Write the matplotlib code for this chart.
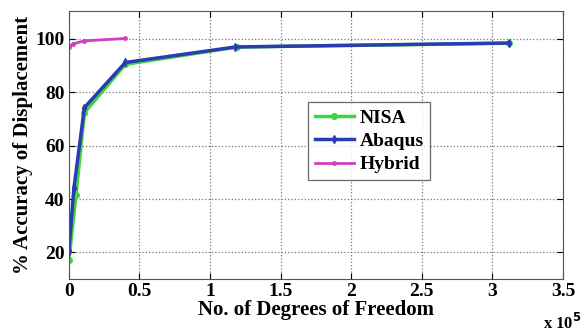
import matplotlib
matplotlib.use('Agg')
import matplotlib.pyplot as plt

# degrees of freedom (x 10^5) and accuracy (%)
nisa_x = [0.0, 0.05, 0.11, 0.4, 1.19, 3.12]
nisa_y = [17.0, 41.5, 72.4, 90.5, 97.0, 98.4]

abaqus_x = [0.0, 0.035, 0.11, 0.4, 1.18, 3.12]
abaqus_y = [20.7, 44.0, 74.3, 91.2, 97.0, 98.5]

hybrid_x = [0.002, 0.03, 0.11, 0.4]
hybrid_y = [97.0, 98.2, 99.3, 100.2]

xticks = [0, 0.5, 1, 1.5, 2, 2.5, 3, 3.5]
xtick_labels = ['0', '0.5', '1', '1.5', '2', '2.5', '3', '3.5']
yticks = [20, 40, 60, 80, 100]

plt.rcParams['font.family'] = ['Liberation Serif', 'DejaVu Serif']
plt.rcParams['font.weight'] = 'bold'

fig = plt.figure(figsize=(5.84, 3.33), dpi=100)
ax = fig.add_axes([0.118, 0.162, 0.846, 0.805])

ax.plot(nisa_x, nisa_y, color='#3fd43f', lw=2.5, marker='o', ms=4, label='NISA')
ax.plot(abaqus_x, abaqus_y, color='#2a3cb0', lw=2.5, marker='d', ms=4, label='Abaqus')
ax.plot(hybrid_x, hybrid_y, color='#d040c0', lw=2.0, marker='.', ms=5, label='Hybrid')

ax.set_xlim(0, 3.5)
ax.set_ylim(10, 110.5)
ax.set_xticks(xticks)
ax.set_xticklabels(xtick_labels)
ax.set_yticks(yticks)
ax.tick_params(direction='in', labelsize=14, top=True, right=True, length=4, pad=3)
for lbl in ax.get_xticklabels() + ax.get_yticklabels():
    lbl.set_fontweight('bold')
ax.grid(True, linestyle=':', color='#777777', lw=0.9)
for s in ax.spines.values():
    s.set_color('#555555')

ax.set_xlabel('No. of Degrees of Freedom', fontsize=15, fontweight='bold', labelpad=0)
ax.set_ylabel('% Accuracy of Displacement', fontsize=15, fontweight='bold', labelpad=2)
fig.text(0.93, 0.012, r'x 10$^{5}$', fontsize=12, fontweight='bold')

leg = ax.legend(loc='upper left', bbox_to_anchor=(0.484, 0.66), fontsize=14,
                frameon=True, fancybox=False, edgecolor='#444444', borderaxespad=0,
                handlelength=2.0, handletextpad=0.3, borderpad=0.35, labelspacing=0.3)
leg.get_frame().set_linewidth(0.9)
for t in leg.get_texts():
    t.set_fontweight('bold')

fig.savefig('out.png', dpi=100)
